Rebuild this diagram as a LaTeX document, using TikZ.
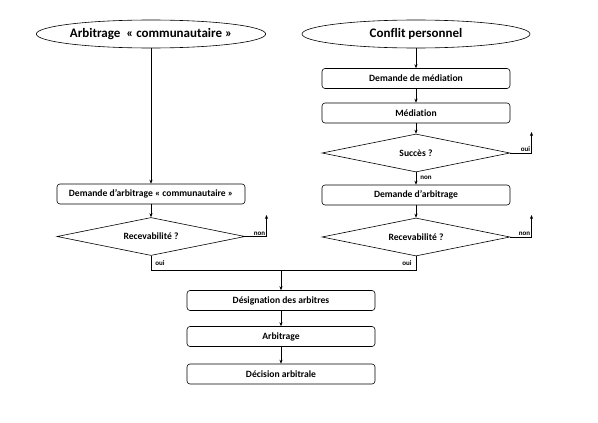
\documentclass[tikz,border=0pt]{standalone}
\usepackage{fontspec}
\setmainfont{Carlito}[Ligatures=NoCommon]
\usetikzlibrary{shapes.geometric,arrows.meta,calc}
\tikzset{
  term/.style={draw, ellipse, line width=0.6pt, minimum width=228pt, minimum height=28pt, inner sep=0pt, font=\bfseries\fontsize{13}{15}\selectfont},
  procbox/.style={draw, rounded corners=3pt, line width=0.6pt, minimum width=188pt, minimum height=20pt, inner sep=0pt, font=\bfseries\fontsize{9.6}{11}\selectfont},
  decbox/.style={draw, diamond, shape aspect=5, line width=0.6pt, minimum width=188pt, minimum height=38pt, inner sep=0pt, font=\bfseries\fontsize{9.6}{11}\selectfont},
  arr/.style={line width=0.6pt, -{Stealth[length=4pt,width=3.2pt]}},
  ln/.style={line width=0.6pt},
  lab/.style={font=\bfseries\fontsize{7}{8}\selectfont, inner sep=1.2pt}
}
\begin{document}
\begin{tikzpicture}[x=1pt,y=-1pt]
\useasboundingbox (0,0) rectangle (598,423);
% left column
\node[term] (e1) at (151,34) {Arbitrage~~« communautaire »};
\node[procbox] (b1) at (151,194) {Demande d'arbitrage « communautaire »};
\node[decbox] (d1) at (151,236.5) {Recevabilité ?};
% right column
\node[term] (e2) at (416,34) {Conflit personnel};
\node[procbox] (r1) at (416,78.5) {Demande de médiation};
\node[procbox] (r2) at (416,113) {Médiation};
\node[decbox] (d2) at (416,153) {Succès ?};
\node[procbox] (r3) at (416,195) {Demande d'arbitrage};
\node[decbox] (d3) at (416,237) {Recevabilité ?};
% bottom
\node[procbox] (c1) at (281,300.5) {Désignation des arbitres};
\node[procbox] (c2) at (281,336.5) {Arbitrage};
\node[procbox] (c3) at (281,374) {Décision arbitrale};
% helper coordinates
\coordinate (j1) at (151,270);
\coordinate (j2) at (416,270);
\coordinate (jm) at (281,270);
\coordinate (n1a) at (266.5,236.5);
\coordinate (n1b) at (266.5,215);
\coordinate (o2a) at (531.5,153);
\coordinate (o2b) at (531.5,132);
\coordinate (n3a) at (531.5,237);
\coordinate (n3b) at (531.5,215);
% connectors
\draw[arr] (e1.south) -- (b1.north);
\draw[arr] (b1.south) -- (d1.north);
\draw[arr] (e2.south) -- (r1.north);
\draw[arr] (r1.south) -- (r2.north);
\draw[arr] (r2.south) -- (d2.north);
\draw[arr] (d2.south) -- (r3.north);
\draw[arr] (r3.south) -- (d3.north);
\draw[arr] (d1.east) -- (n1a) -- (n1b);
\draw[arr] (d2.east) -- (o2a) -- (o2b);
\draw[arr] (d3.east) -- (n3a) -- (n3b);
\draw[ln] (d1.south) -- (j1) -- (j2) -- (d3.south);
\draw[arr] (jm) -- (c1.north);
\draw[arr] (c1.south) -- (c2.north);
\draw[arr] (c2.south) -- (c3.north);
% labels
\node[lab, anchor=south east] at (n1a) {non};
\node[lab, anchor=south east] at (o2a) {oui};
\node[lab, anchor=south east] at (n3a) {non};
\node[lab, anchor=west] at (154,263.5) {oui};
\node[lab, anchor=east] at (413,263.5) {oui};
\node[lab, anchor=west] at (419,177.5) {non};
\end{tikzpicture}
\end{document}
